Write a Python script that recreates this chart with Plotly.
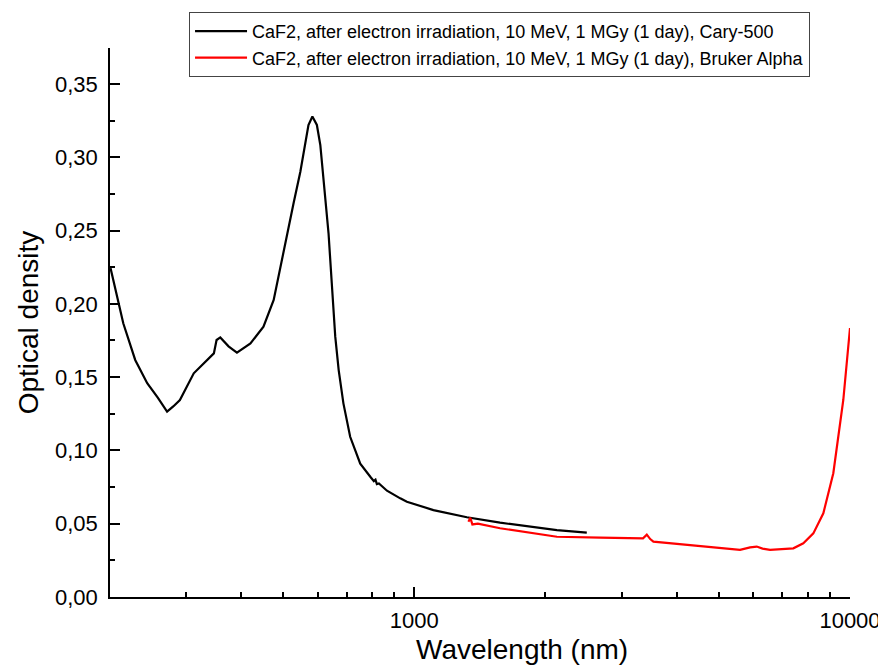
import plotly.graph_objects as go

# Cary-500 (black) — wavelength (nm) and optical density
cary_wl = [201, 208, 215, 229, 244, 258, 271, 280, 290, 312, 335, 347, 352, 359, 375, 392,
           421, 451, 476, 502, 511, 529, 548, 562, 572, 584, 598, 609, 619, 631, 636, 647,
           659, 671, 688, 713, 752, 793, 808, 815, 821, 830, 866, 929, 962, 1107, 1253,
           1321, 1574, 1877, 2125, 2489]
cary_od = [0.2244, 0.2050, 0.1867, 0.1617, 0.1458, 0.1360, 0.1264, 0.1300, 0.1344, 0.1526,
           0.1617, 0.1662, 0.1753, 0.1771, 0.1710, 0.1667, 0.1730, 0.1844, 0.2026, 0.2367,
           0.2481, 0.2690, 0.2901, 0.3083, 0.3220, 0.3278, 0.3220, 0.3083, 0.2860, 0.2600,
           0.2481, 0.2140, 0.1776, 0.1548, 0.1321, 0.1093, 0.0910, 0.0820, 0.0790, 0.0800,
           0.0770, 0.0775, 0.0725, 0.0673, 0.0650, 0.0593, 0.0559, 0.0544, 0.0507, 0.0475,
           0.0456, 0.0439]

# Bruker Alpha (red)
bruker_wl = [1332, 1345, 1360, 1400, 1574, 1877, 2125, 2672, 3075, 3350, 3418, 3480, 3539,
             4222, 5032, 5593, 5900, 6109, 6300, 6555, 7413, 7814, 8239, 8686, 9156, 9487,
             9652, 10000]
bruker_od = [0.0514, 0.0540, 0.0495, 0.0500, 0.0469, 0.0434, 0.0411, 0.0405, 0.0405, 0.0400,
             0.0425, 0.0395, 0.0378, 0.0355, 0.0332, 0.0321, 0.0338, 0.0344, 0.0330, 0.0321,
             0.0332, 0.0366, 0.0434, 0.0571, 0.0844, 0.1162, 0.1344, 0.1835]

series_names = [
    "CaF2, after electron irradiation, 10 MeV, 1 MGy (1 day), Cary-500",
    "CaF2, after electron irradiation, 10 MeV, 1 MGy (1 day), Bruker Alpha",
]

y_tickvals = [0.0, 0.05, 0.10, 0.15, 0.20, 0.25, 0.30, 0.35]
y_ticktext = ["0,00", "0,05", "0,10", "0,15", "0,20", "0,25", "0,30", "0,35"]
y_minor = [0.025, 0.075, 0.125, 0.175, 0.225, 0.275, 0.325]
x_tickvals = [1000, 10000]
x_ticktext = ["1000", "10000"]
x_minor = [300, 400, 500, 600, 700, 800, 900, 2000, 3000, 4000, 5000, 6000, 7000, 8000, 9000]

x_title = "Wavelength (nm)"
y_title = "Optical density"

FONT = "Arial, Liberation Sans, sans-serif"

fig = go.Figure()
fig.add_trace(go.Scatter(x=cary_wl, y=cary_od, mode="lines", name=series_names[0],
                         line=dict(color="black", width=2.2)))
fig.add_trace(go.Scatter(x=bruker_wl, y=bruker_od, mode="lines", name=series_names[1],
                         line=dict(color="#ff0000", width=2.2)))

fig.update_layout(
    width=886, height=665,
    margin=dict(l=102, r=44, t=40, b=76, autoexpand=False),
    paper_bgcolor="white", plot_bgcolor="white",
    font=dict(family=FONT, color="black"),
    showlegend=True,
    legend=dict(x=0.1068, y=1.0656, xanchor="left", yanchor="top",
                bordercolor="#444", borderwidth=1, bgcolor="white",
                font=dict(size=18, family=FONT), tracegroupgap=0,
                itemwidth=52),
    xaxis=dict(type="log", range=[2.302, 4.0],
               tickmode="array", tickvals=x_tickvals, ticktext=x_ticktext,
               ticks="inside", ticklen=10, tickwidth=1.5, tickcolor="black",
               showline=True, linecolor="black", linewidth=1.5,
               showgrid=False, zeroline=False,
               tickfont=dict(size=22), ticklabelstandoff=3,
               minor=dict(tickmode="array", tickvals=x_minor, ticks="inside",
                          ticklen=5, tickwidth=1.5, tickcolor="black", showgrid=False)),
    yaxis=dict(range=[0, 0.3745],
               tickmode="array", tickvals=y_tickvals, ticktext=y_ticktext,
               ticks="inside", ticklen=10, tickwidth=1.5, tickcolor="black",
               showline=True, linecolor="black", linewidth=1.5,
               showgrid=False, zeroline=False,
               tickfont=dict(size=22), ticklabelstandoff=6,
               minor=dict(tickmode="array", tickvals=y_minor, ticks="inside",
                          ticklen=5, tickwidth=1.5, tickcolor="black", showgrid=False),
               title=dict(text=y_title, font=dict(size=28), standoff=8)),
    annotations=[dict(text=x_title, xref="paper", yref="paper", x=0.557, y=-0.0965,
                      xanchor="center", yanchor="middle", showarrow=False,
                      font=dict(size=28, family=FONT, color="black"))],
)

fig.write_html("out.html")
